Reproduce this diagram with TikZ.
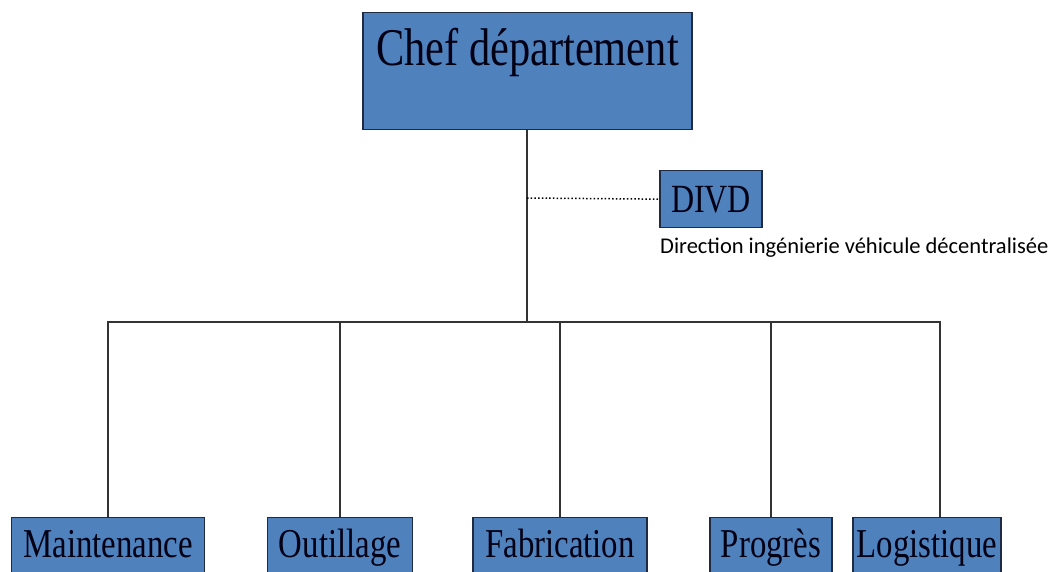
\documentclass[tikz,border=0pt]{standalone}
\usepackage{fontspec}
\setmainfont{Liberation Serif}
\newfontfamily\boxfont{Liberation Serif}[FakeStretch=0.8]
\newfontfamily\calib{Carlito}
\usetikzlibrary{positioning}
\definecolor{boxblue}{HTML}{4F81BD}
\definecolor{boxline}{HTML}{1F2A44}
\definecolor{wire}{HTML}{333333}

\begin{document}
\begin{tikzpicture}[
    x=1pt, y=-1pt,
    box/.style={draw=boxline, line width=1.3pt, fill=boxblue, inner xsep=0pt, inner ysep=0pt, anchor=north, text=black!92!blue},
    unit/.style={box, font=\boxfont\fontsize{41}{44}\selectfont, minimum height=90pt, text height=40pt, text depth=50pt},
    wire/.style={draw=wire, line width=1.3pt},
    dotline/.style={draw=black, line width=1.5pt, dash pattern=on 1.5pt off 2.2pt}
]
    \useasboundingbox[fill=white] (0,0) rectangle (1055,571);

    % --- Head of department ---
    \node[box, minimum width=329pt, font=\boxfont\fontsize{53}{58}\selectfont, text height=53pt, text depth=64pt] (chef) at (527.5,12) {Chef département};

    % --- DIVD (dotted link) ---
    \node[box, minimum width=102pt, font=\boxfont\fontsize{40}{44}\selectfont, text height=42pt, text depth=15pt] (divd) at (711,170) {DIVD};
    \node[anchor=base west, inner sep=0pt, font=\calib\fontsize{22.5}{25}\selectfont] (divdtxt) at (660,253) {Direction ingénierie véhicule décentralisée};

    % --- Units ---
    \node[unit, minimum width=193pt] (maint) at (108,517) {Maintenance};
    \node[unit, minimum width=145pt] (outil) at (340,517) {Outillage};
    \node[unit, minimum width=174pt] (fab) at (560,517) {Fabrication};
    \node[unit, minimum width=122pt] (prog) at (771,517) {Progrès};
    \node[unit, minimum width=148pt] (logi) at (927,517) {Logistique};

    % --- Connectors ---
    \coordinate (hub) at (527,322);
    \coordinate (tap) at (527,198);
    \draw[wire] (chef.south -| hub) -- (hub);
    \draw[dotline] (tap) -- (divd.west);
    \draw[wire] (hub) -| (maint.north);
    \draw[wire] (hub) -| (outil.north);
    \draw[wire] (hub) -| (fab.north);
    \draw[wire] (hub) -| (prog.north);
    \draw[wire] (hub) -| ([xshift=13pt]logi.north);
\end{tikzpicture}
\end{document}
